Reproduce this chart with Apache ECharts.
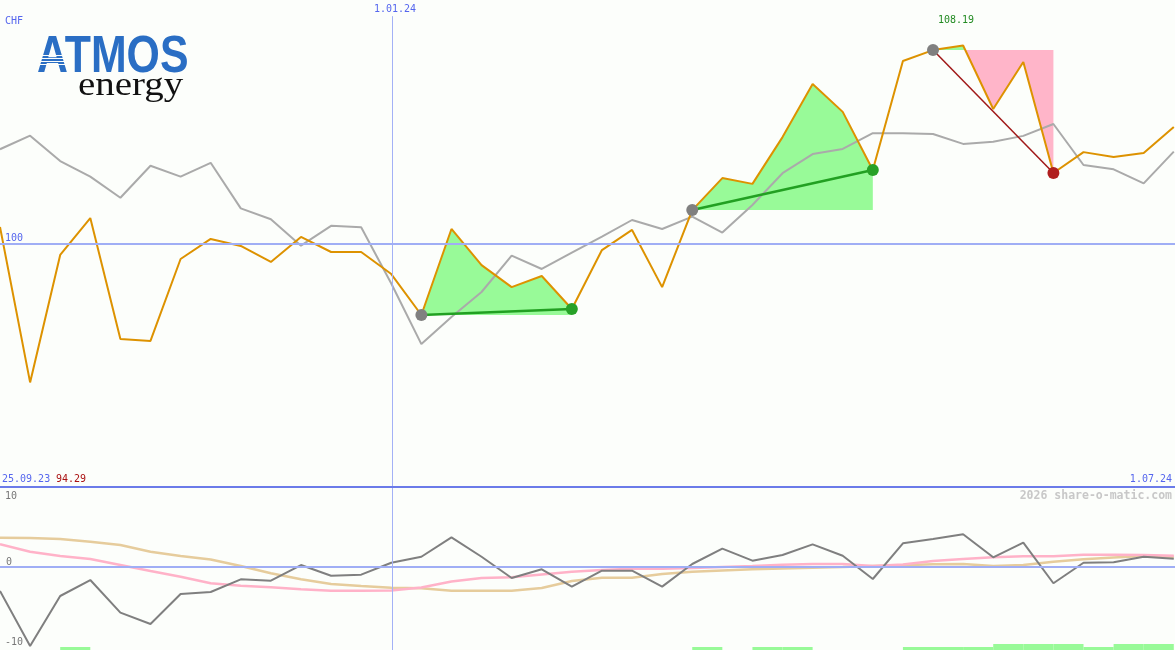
<!DOCTYPE html>
<html><head><meta charset="utf-8">
<script src="https://cdn.jsdelivr.net/npm/echarts@6/dist/echarts.min.js"></script>
<style>html,body{margin:0;padding:0;background:#fcfefb;overflow:hidden}#c{width:1175px;height:650px}</style>
</head><body><div id="c"></div>
<script>
// ---- data (index = trading period) ----
const price = [100.70, 94.29, 99.55, 101.07, 96.08, 96.00, 99.38, 100.21, 99.92, 99.26, 100.29, 99.67, 99.67, 98.76, 97.07, 100.62, 99.13, 98.22, 98.68, 97.32, 99.75, 100.58, 98.22, 101.40, 102.72, 102.48, 104.41, 106.60, 105.45, 103.05, 107.55, 108.00, 108.19, 105.57, 107.51, 102.93, 103.79, 103.59, 103.75, 104.83];
const bench = [103.91, 104.47, 103.42, 102.78, 101.91, 103.23, 102.78, 103.35, 101.47, 101.02, 99.93, 100.75, 100.69, 98.37, 95.87, 96.99, 98.02, 99.52, 98.97, 99.64, 100.30, 100.99, 100.62, 101.13, 100.47, 101.61, 102.92, 103.71, 103.92, 104.57, 104.57, 104.54, 104.13, 104.22, 104.46, 104.95, 103.26, 103.08, 102.50, 103.81];
const momentum = [-3.04, -10.0, -3.67, -1.65, -5.78, -7.22, -3.42, -3.16, -1.56, -1.73, 0.25, -1.10, -0.97, 0.54, 1.30, 3.76, 1.30, -1.39, -0.29, -2.49, -0.47, -0.47, -2.49, 0.38, 2.32, 0.80, 1.52, 2.87, 1.43, -1.52, 3.00, 3.54, 4.14, 1.23, 3.08, -2.06, 0.54, 0.59, 1.30, 1.05];
const maFast = [2.87, 1.94, 1.39, 1.01, 0.25, -0.51, -1.23, -2.06, -2.37, -2.57, -2.82, -3.0, -3.0, -2.97, -2.6, -1.84, -1.39, -1.30, -0.95, -0.61, -0.38, -0.23, -0.23, -0.13, 0, 0.13, 0.30, 0.38, 0.38, 0.13, 0.32, 0.76, 1.01, 1.23, 1.35, 1.37, 1.56, 1.56, 1.52, 1.43];
const maSlow = [3.71, 3.67, 3.54, 3.20, 2.78, 1.94, 1.39, 0.96, 0.13, -0.80, -1.56, -2.15, -2.41, -2.62, -2.70, -3.0, -3.0, -3.0, -2.66, -1.77, -1.35, -1.35, -0.89, -0.59, -0.44, -0.29, -0.19, -0.10, 0, 0.13, 0.22, 0.35, 0.38, 0.13, 0.25, 0.67, 0.97, 1.2, 1.39, 1.30];
const signal = [0,0,1,0,0,0,0,0,0,0, 0,0,0,0,0,0,0,0,0,0, 0,0,0,1,0,1,1,0,0,0, 1,1,1,2,2,2,1,2,2];
const trades = [[14, 19], [23, 29], [31, 35]];
const dateMarker = 13.02;
const dateLabels = ['25.09.23', '1.01.24', '1.07.24'];
const topTicks = [100];
const lowTicks = [10, 0, -10];
const currency = 'CHF';

// ---- derived ----
const X_MAX = 39.04;
const TOP_MIN = 89.975, TOP_MAX = 110.066;
const LOW_MIN = -10.506, LOW_MAX = 10;
const idx = a => a.map((v, i) => [i, v]);
const maxV = Math.max(...price), minV = Math.min(...price);

// fill polygons between price and entry level
const polys = [];
trades.forEach(([a, b]) => {
  const L = price[a];
  const path = [];
  for (let i = a; i <= b; i++) {
    path.push([i, price[i]]);
    if (i < b && (price[i] - L) * (price[i + 1] - L) < 0) {
      const t = (L - price[i]) / (price[i + 1] - price[i]);
      path.push([i + t, L]);
    }
  }
  const up = path.map(p => [p[0], Math.max(p[1], L)]).concat([[b, L], [a, L]]);
  polys.push({ pts: up, color: '#98fa98' });
  if (path.some(p => p[1] < L)) {
    const dn = path.map(p => [p[0], Math.min(p[1], L)]).concat([[b, L], [a, L]]);
    polys.push({ pts: dn, color: '#ffb5c9' });
  }
});

const mono = '"DejaVu Sans Mono", monospace';
const txt = (x, y, text, fill, opts = {}) => ({
  type: 'text', x, y, silent: true, z: 50,
  style: Object.assign({ text, fill, font: (opts.font || '10px ' + mono),
    textAlign: opts.align || 'left', align: opts.align || 'left',
    textVerticalAlign: 'middle', verticalAlign: 'middle' })
});

const chart = echarts.init(document.getElementById('c'), null, { renderer: 'canvas' });
const lineBase = { type: 'line', symbol: 'none', showSymbol: false, silent: true, animation: false };

const option = {
  backgroundColor: '#fcfefb',
  animation: false,
  grid: [
    { left: 0, right: 0, top: 0, height: 487 },
    { left: 0, right: 0, top: 488, height: 162 }
  ],
  xAxis: [
    { type: 'value', gridIndex: 0, min: 0, max: X_MAX, show: false },
    { type: 'value', gridIndex: 1, min: 0, max: X_MAX, show: false }
  ],
  yAxis: [
    { type: 'value', gridIndex: 0, min: TOP_MIN, max: TOP_MAX, show: false },
    { type: 'value', gridIndex: 1, min: LOW_MIN, max: LOW_MAX, show: false },
    { type: 'value', gridIndex: 1, min: 0, max: 54, show: false }
  ],
  series: [
    {
      type: 'custom', xAxisIndex: 0, yAxisIndex: 0, silent: true, z: 1,
      data: polys.map((p, k) => [p.pts[0][0], p.pts[0][1], k]),
      renderItem: (params, api) => {
        const p = polys[api.value(2)];
        return { type: 'polygon', shape: { points: p.pts.map(q => api.coord(q)) }, style: { fill: p.color } };
      }
    },
    Object.assign({}, lineBase, {
      name: 'bench', data: idx(bench), xAxisIndex: 0, yAxisIndex: 0, z: 3,
      lineStyle: { color: '#aaaaaa', width: 2 },
      markLine: {
        silent: true, symbol: 'none', label: { show: false }, animation: false,
        lineStyle: { color: '#a3b1f6', width: 1, type: 'solid' },
        data: [[{ coord: [dateMarker, 109.40] }, { coord: [dateMarker, TOP_MIN] }]]
      }
    }),
    Object.assign({}, lineBase, {
      name: 'price', data: idx(price), xAxisIndex: 0, yAxisIndex: 0, z: 4,
      lineStyle: { color: '#dd9200', width: 2 },
      markLine: {
        silent: true, symbol: 'none', label: { show: false }, animation: false,
        lineStyle: { color: '#a0aef5', width: 2, type: 'solid' },
        data: topTicks.map(t => ({ yAxis: t }))
      }
    }),
    ...trades.map(([a, b]) => Object.assign({}, lineBase, {
      data: [[a, price[a]], [b, price[b]]], xAxisIndex: 0, yAxisIndex: 0, z: 5,
      lineStyle: price[b] >= price[a] ? { color: '#22a022', width: 2.5 } : { color: '#a01818', width: 1.5 }
    })),
    {
      type: 'scatter', xAxisIndex: 0, yAxisIndex: 0, silent: true, z: 6, symbolSize: 12,
      data: trades.map(([a]) => [a, price[a]]),
      itemStyle: { color: '#808080', opacity: 1 }
    },
    {
      type: 'scatter', xAxisIndex: 0, yAxisIndex: 0, silent: true, z: 6, symbolSize: 12,
      data: trades.map(([a, b]) => ({ value: [b, price[b]], itemStyle: { color: price[b] >= price[a] ? '#27a127' : '#b01e1e' } })),
      itemStyle: { opacity: 1 }
    },
    // lower panel
    {
      type: 'custom', xAxisIndex: 1, yAxisIndex: 2, silent: true, z: 1,
      data: signal.map((v, i) => [i, v]).filter(d => d[1] > 0),
      renderItem: (params, api) => {
        const i = api.value(0), v = api.value(1);
        const p0 = api.coord([i, 0]), p1 = api.coord([i + 1, v]);
        return { type: 'rect', shape: { x: p0[0], y: p1[1], width: p1[0] - p0[0], height: p0[1] - p1[1] }, style: { fill: '#98fa98' } };
      }
    },
    Object.assign({}, lineBase, {
      name: 'maSlow', data: idx(maSlow), xAxisIndex: 1, yAxisIndex: 1, z: 3,
      lineStyle: { color: '#e6cc9c', width: 2.5 },
      markLine: {
        silent: true, symbol: 'none', label: { show: false }, animation: false,
        lineStyle: { color: '#a3b1f6', width: 1, type: 'solid' },
        data: [{ xAxis: dateMarker }]
      }
    }),
    Object.assign({}, lineBase, {
      name: 'maFast', data: idx(maFast), xAxisIndex: 1, yAxisIndex: 1, z: 3,
      lineStyle: { color: '#ffb2c8', width: 2.5 },
      markLine: {
        silent: true, symbol: 'none', label: { show: false }, animation: false,
        lineStyle: { color: '#a0aef5', width: 2, type: 'solid' },
        data: [{ yAxis: 0 }]
      }
    }),
    Object.assign({}, lineBase, {
      name: 'momentum', data: idx(momentum), xAxisIndex: 1, yAxisIndex: 1, z: 4,
      lineStyle: { color: '#7f7f7f', width: 2 }
    })
  ],
  graphic: [
    { type: 'line', silent: true, z: 40, shape: { x1: 0, y1: 487, x2: 1175, y2: 487 }, style: { stroke: '#6b7be9', lineWidth: 2 } },
    txt(5, 21, currency, '#5566ee'),
    txt(395, 9, dateLabels[1], '#5566ee', { align: 'center' }),
    txt(5, 238, String(topTicks[0]), '#5566ee'),
    txt(2, 479, dateLabels[0], '#5566ee'),
    txt(56, 479, minV.toFixed(2), '#aa1111'),
    txt(1172, 479, dateLabels[2], '#5566ee', { align: 'right' }),
    txt(956, 20, maxV.toFixed(2), '#228b22', { align: 'center' }),
    txt(1172, 496, '2026 share-o-matic.com', '#c8c8c8', { align: 'right', font: 'bold 11.5px ' + mono }),
    txt(5, 496, String(lowTicks[0]), '#777777'),
    txt(6, 562, String(lowTicks[1]), '#777777'),
    txt(5, 642, String(lowTicks[2]), '#777777'),
    // logo
    { type: 'text', x: 37, y: 58, scaleX: 0.84, silent: true, z: 50,
      style: { text: 'ATMOS', fill: '#2a6ec4', font: 'bold 51px "Liberation Sans", Arial, sans-serif', textAlign: 'left', align: 'left', textVerticalAlign: 'middle', verticalAlign: 'middle' } },
    ...[55, 58, 61, 64].map(y => ({ type: 'rect', silent: true, z: 51, shape: { x: 30, y: y, width: 44, height: 1 }, style: { fill: '#fcfefb' } })),
    { type: 'text', x: 78, y: 86, scaleX: 1.18, silent: true, z: 50,
      style: { text: 'energy', fill: '#111111', font: '33px "Liberation Serif", "Times New Roman", serif', textAlign: 'left', align: 'left', textVerticalAlign: 'middle', verticalAlign: 'middle' } }
  ]
};
chart.setOption(option);
</script>
</body></html>
